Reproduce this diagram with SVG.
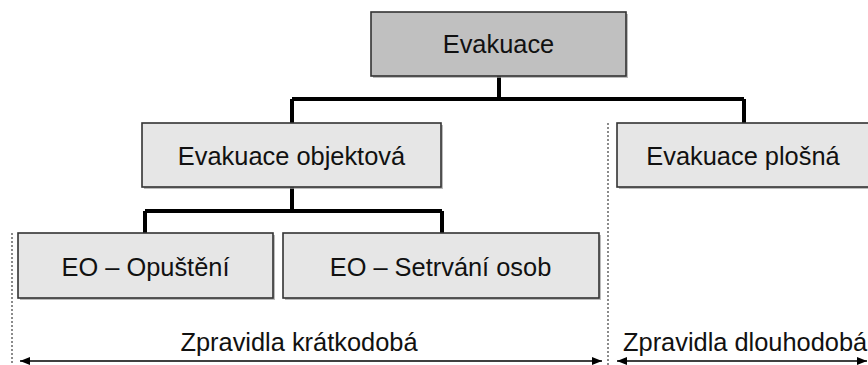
<svg xmlns="http://www.w3.org/2000/svg" width="868" height="365" viewBox="0 0 868 365">
<style>
.box{stroke:#333;stroke-width:1.6}
.shadow{fill:#a0a0a0;opacity:0.7}
.lt{fill:#e6e6e6}
.dk{fill:#c0c0c0}
text{font-family:"Liberation Sans",Arial,sans-serif;font-size:25.4px;fill:#111;text-anchor:middle}
.conn{fill:none;stroke:#000;stroke-width:4}
.dot{fill:none;stroke:#666;stroke-width:1.5;stroke-dasharray:2,2}
.arr{fill:none;stroke:#000;stroke-width:1.5;marker-start:url(#ah);marker-end:url(#ah)}
</style>
<defs>
<marker id="ah" viewBox="0 0 10 8" refX="10" refY="4" markerWidth="10" markerHeight="8" markerUnits="userSpaceOnUse" orient="auto-start-reverse">
<path d="M0,0 L10,4 L0,8 Z" fill="#000"/>
</marker>
</defs>
<rect width="868" height="365" fill="#fff"/>
<g id="connectors">
<path class="conn" d="M499,76 V99 M292,99 H744 M292,99 V123 M744,99 V123"/>
<path class="conn" d="M292,187 V211 M145,211 H442 M145,211 V233 M442,211 V233"/>
<path class="dot" d="M12,233 V365"/>
<path class="dot" d="M608,123 V365"/>
<path class="arr" d="M20,361 H602"/>
<path class="arr" d="M617,361 H867"/>
</g>
<g id="evakuace">
<rect class="shadow" x="373" y="14" width="255" height="64"/>
<rect class="box dk" x="371" y="12" width="255" height="64"/>
<text x="498.5" y="53">Evakuace</text>
</g>
<g id="objektova">
<rect class="shadow" x="144" y="125" width="299" height="64"/>
<rect class="box lt" x="142" y="123" width="299" height="64"/>
<text x="291.5" y="165">Evakuace objektová</text>
</g>
<g id="plosna">
<rect class="shadow" x="619" y="125" width="260" height="64"/>
<rect class="box lt" x="617" y="123" width="260" height="64"/>
<text x="743" y="165">Evakuace plošná</text>
</g>
<g id="opusteni">
<rect class="shadow" x="20" y="235" width="255" height="65"/>
<rect class="box lt" x="18" y="233" width="255" height="65"/>
<text x="145.5" y="276">EO – Opuštění</text>
</g>
<g id="setrvani">
<rect class="shadow" x="285" y="235" width="316" height="65"/>
<rect class="box lt" x="283" y="233" width="316" height="65"/>
<text x="440.5" y="276">EO – Setrvání osob</text>
</g>
<g id="labels">
<text x="299" y="351">Zpravidla krátkodobá</text>
<text x="623" y="351" style="text-anchor:start">Zpravidla dlouhodobá</text>
</g>
</svg>
